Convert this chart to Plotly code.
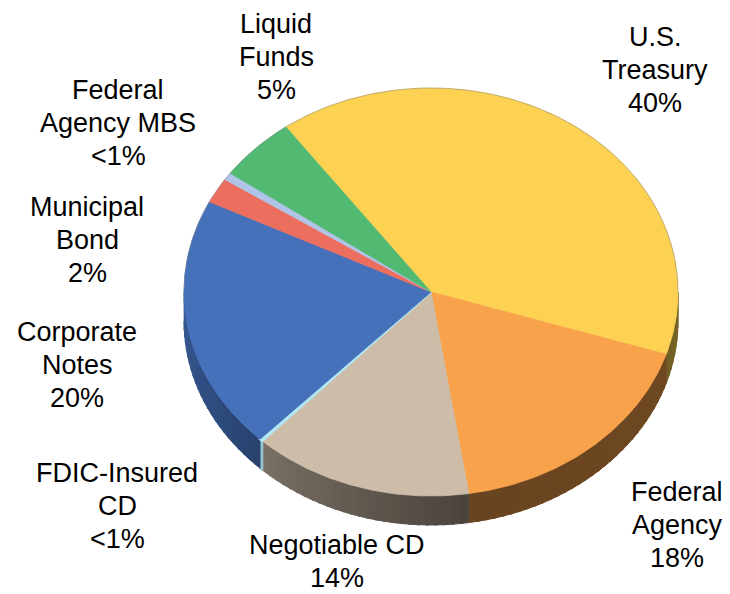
import numpy as np
import plotly.graph_objects as go

# ---- data ----
categories = ["U.S.<br>Treasury", "Federal<br>Agency", "Negotiable CD", "FDIC-Insured<br>CD",
              "Corporate<br>Notes", "Municipal<br>Bond", "Federal<br>Agency MBS", "Liquid<br>Funds"]
values = [39.9, 17.6, 14.4, 0.2, 20.1, 2.0, 0.6, 5.1]

# ---- style ----
top_colors = ["#FDD253", "#F8A24C", "#CCBCA8", "#B2E6F2", "#4570BA", "#EC6E5E", "#B0C4E8", "#52B973"]
edge_width = [0.8, 0.8, 0.8, 2.2, 0.8, 0.8, 0.8, 0.8]
side_shade = [(0.48, 0.45), (0.45, 0.42), (0.36, 0.60), (0.85, 0.85), (0.60, 0.80),
              (0.6, 0.6), (0.6, 0.6), (0.6, 0.6)]  # (right end, left end)
label_x = [655, 677, 337, 117, 77, 87, 118, 276]
label_y = [70, 525, 561, 506, 365, 240, 123, 57]
line_gap = 33
cx, cy, ra, rb, depth = 431, 292, 247, 204, 29
start_angle = 126.0

def hex2rgb(h):
    h = h.lstrip("#")
    return tuple(int(h[i:i + 2], 16) for i in (0, 2, 4))

def shade(h, f):
    r, g, b = hex2rgb(h)
    return "rgb(%d,%d,%d)" % (r * f, g * f, b * f)

def ex(phi):
    return cx + ra * np.cos(np.radians(phi))

def ey(phi, dz=0):
    return cy - rb * np.sin(np.radians(phi)) + dz

total = sum(values)
spans = [v / total * 360 for v in values]
bounds = []
a = start_angle
for s in spans:
    bounds.append((a - s, a))
    a -= s

fig = go.Figure()

# sides (front half only), with slight overlap to avoid seams
for i, (lo, hi) in enumerate(bounds):
    seg_lo = max(lo, -180)
    seg_hi = min(hi, 0)
    if seg_hi <= seg_lo:
        continue
    n = max(1, int(np.ceil((seg_hi - seg_lo) / 2.0)))
    edges = np.linspace(seg_lo, seg_hi, n + 1)
    fr, fl = side_shade[i]
    for k in range(n):
        p1, p2 = edges[k], min(edges[k + 1] + 0.6, seg_hi)
        mid = 0.5 * (edges[k] + edges[k + 1])
        t = (seg_hi - mid) / (seg_hi - seg_lo)
        f = fr + (fl - fr) * t
        col = shade(top_colors[i], f)
        ph = np.linspace(p1, p2, 6)
        xs = np.concatenate([ex(ph), ex(ph[::-1])])
        ys = np.concatenate([ey(ph), ey(ph[::-1], depth)])
        fig.add_trace(go.Scatter(x=xs, y=ys, fill="toself", fillcolor=col, mode="lines",
                                 line=dict(color=col, width=max(1, edge_width[i])),
                                 hoverinfo="skip", showlegend=False))

# tops
for i, (lo, hi) in enumerate(bounds):
    ph = np.linspace(hi, lo, max(3, int(abs(hi - lo) * 2)))
    xs = np.concatenate([[cx], ex(ph), [cx]])
    ys = np.concatenate([[cy], ey(ph), [cy]])
    fig.add_trace(go.Scatter(x=xs, y=ys, fill="toself", fillcolor=top_colors[i], mode="lines",
                             line=dict(color=top_colors[i], width=edge_width[i]), hoverinfo="skip",
                             showlegend=False, name=categories[i].replace("<br>", " ")))

# subtle rim on back edge
ph = np.linspace(0, 180, 200)
fig.add_trace(go.Scatter(x=ex(ph), y=ey(ph), mode="lines",
                         line=dict(color="rgba(120,120,120,0.45)", width=1),
                         hoverinfo="skip", showlegend=False))

# labels (one annotation per line for exact line spacing)
for i, name in enumerate(categories):
    share = values[i] / total * 100
    pct = "<1%" if share < 1 else "%d%%" % round(share)
    lines = name.split("<br>") + [pct]
    nl = len(lines)
    for j, ln in enumerate(lines):
        fig.add_annotation(x=label_x[i], y=label_y[i] + (j - (nl - 1) / 2) * line_gap,
                           text=ln, showarrow=False, xanchor="center", yanchor="middle",
                           font=dict(family="Liberation Sans, Arial, sans-serif", size=27,
                                     color="black"))

fig.update_layout(width=730, height=594, margin=dict(l=0, r=0, t=0, b=0),
                  paper_bgcolor="white", plot_bgcolor="white", showlegend=False,
                  xaxis=dict(range=[0, 730], visible=False, fixedrange=True),
                  yaxis=dict(range=[594, 0], visible=False, fixedrange=True))

fig.write_html("out.html", config={"displayModeBar": False},
               post_script="document.body.style.margin='0';")
